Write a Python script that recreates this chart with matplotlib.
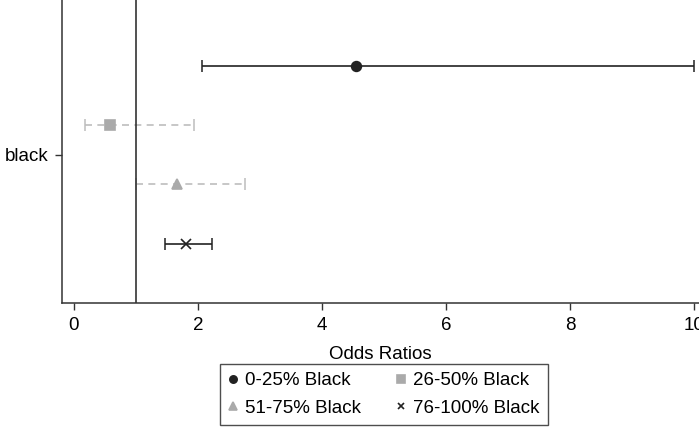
import matplotlib
matplotlib.use("Agg")
import matplotlib.pyplot as plt

plt.rcParams['font.family'] = ['Liberation Sans', 'DejaVu Sans']

groups = ["0-25% Black", "26-50% Black", "51-75% Black", "76-100% Black"]
odds = [4.55, 0.58, 1.66, 1.81]
ci_low = [2.07, 0.18, 1.00, 1.47]
ci_high = [10.0, 1.94, 2.76, 2.23]
ypos = [1.5, 0.5, -0.5, -1.5]
markers = ["o", "s", "^", "x"]
colors = ["#222222", "#aaaaaa", "#aaaaaa", "#222222"]
line_colors = ["#222222", "#bdbdbd", "#bdbdbd", "#222222"]
styles = ["-", (0, (4.2, 3.2)), (0, (4.2, 3.2)), "-"]

fig = plt.figure(figsize=(6.99, 4.32), dpi=100)
ax = fig.add_axes([62 / 699, 129 / 432, 1 - 62 / 699, 303 / 432])

handles = []
for i in range(len(groups)):
    err = [[odds[i] - ci_low[i]], [ci_high[i] - odds[i]]]
    eb = ax.errorbar(odds[i], ypos[i], xerr=err, fmt="none", ecolor=line_colors[i],
                     elinewidth=1.2, capsize=4, capthick=1.1)
    eb[2][0].set_linestyle(styles[i])
    h, = ax.plot(odds[i], ypos[i], marker=markers[i], color=colors[i],
                 ms=6.5 if markers[i] == "x" else 7,
                 mew=1.2, linestyle="none", label=groups[i])
    handles.append(h)

ax.axvline(1, color="#333333", lw=1.2)

ax.set_xlim(-0.19, (699 - 74) / 62)
ax.set_ylim(-2.5, 2.61)
ax.set_xticks([0, 2, 4, 6, 8, 10])
ax.set_yticks([0])
ax.set_yticklabels(["black"])
ax.tick_params(labelsize=13.5, length=5, width=1, color="#333333", pad=5)
ax.spines["top"].set_visible(False)
ax.spines["right"].set_visible(False)
for s in ["left", "bottom"]:
    ax.spines[s].set_color("#333333")
    ax.spines[s].set_linewidth(1.1)
ax.set_xlabel("Odds Ratios", fontsize=13.5, labelpad=9)

# row-wise order: matplotlib fills legend columns first
order = [0, 2, 1, 3]
leg = fig.legend(handles=[handles[k] for k in order], loc="center",
                 bbox_to_anchor=(384 / 699, 1 - 394.5 / 432),
                 ncol=2, fontsize=13.5, frameon=True, fancybox=False, markerscale=0.75,
                 handlelength=0.5, handletextpad=0.4, columnspacing=1.9,
                 borderpad=0.45, labelspacing=0.55)
leg.get_frame().set_edgecolor("#222222")
leg.get_frame().set_linewidth(1.0)

fig.savefig("out.png", dpi=100)
